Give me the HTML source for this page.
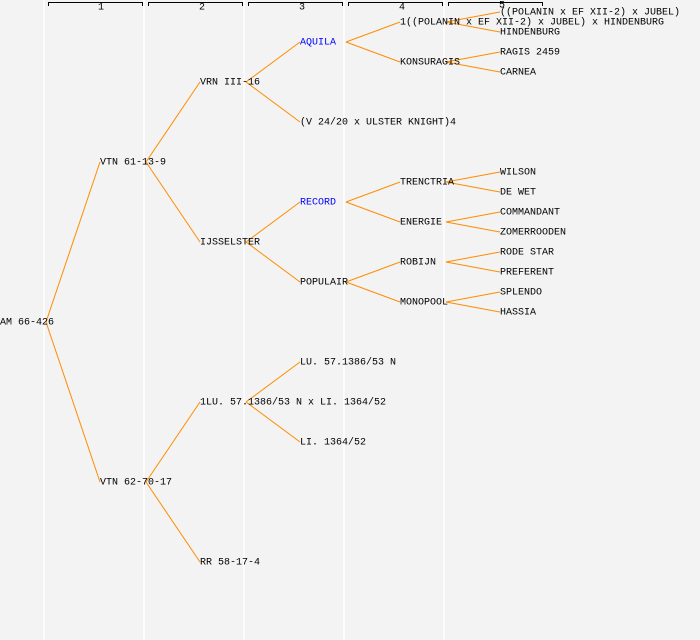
<!DOCTYPE html>
<html><head><meta charset="utf-8"><style>
html,body{margin:0;padding:0;background:#f3f3f3;}
svg{display:block;}
text{font-family:"Liberation Mono",monospace;font-size:10px;fill:#000;dominant-baseline:middle;}
</style></head><body>
<svg width="700" height="640" viewBox="0 0 700 640">
<rect width="700" height="640" fill="#f3f3f3"/>
<g stroke="#fff" stroke-width="1.5">
<line x1="44" y1="0" x2="44" y2="640"/><line x1="144" y1="0" x2="144" y2="640"/><line x1="244" y1="0" x2="244" y2="640"/><line x1="344" y1="0" x2="344" y2="640"/><line x1="444" y1="0" x2="444" y2="640"/>
</g>
<g stroke="#000" fill="none" stroke-width="1">
<path d="M48.5 6V2.5H142.5V6"/><path d="M148.5 6V2.5H242.5V6"/><path d="M248.5 6V2.5H342.5V6"/><path d="M348.5 6V2.5H442.5V6"/><path d="M448.5 6V2.5H542.5V6"/>
</g>
<g style="font-size:8px" text-anchor="middle">
<text x="101" y="7">1</text><text x="202" y="7">2</text><text x="302" y="7">3</text><text x="402" y="7">4</text><text x="502" y="5">5</text>
</g>
<g stroke="#ff8c00" stroke-width="1" fill="none">
<line x1="46" y1="322" x2="100" y2="162"/><line x1="46" y1="322" x2="100" y2="482"/>
<line x1="146" y1="162" x2="200" y2="82"/><line x1="146" y1="162" x2="200" y2="242"/>
<line x1="146" y1="482" x2="200" y2="402"/><line x1="146" y1="482" x2="200" y2="562"/>
<line x1="246" y1="82" x2="300" y2="42"/><line x1="246" y1="82" x2="300" y2="122"/>
<line x1="246" y1="242" x2="300" y2="202"/><line x1="246" y1="242" x2="300" y2="282"/>
<line x1="246" y1="402" x2="300" y2="362"/><line x1="246" y1="402" x2="300" y2="442"/>
<line x1="346" y1="42" x2="400" y2="22"/><line x1="346" y1="42" x2="400" y2="62"/>
<line x1="346" y1="202" x2="400" y2="182"/><line x1="346" y1="202" x2="400" y2="222"/>
<line x1="346" y1="282" x2="400" y2="262"/><line x1="346" y1="282" x2="400" y2="302"/>
<line x1="446" y1="22" x2="500" y2="12"/><line x1="446" y1="22" x2="500" y2="32"/>
<line x1="446" y1="62" x2="500" y2="52"/><line x1="446" y1="62" x2="500" y2="72"/>
<line x1="446" y1="182" x2="500" y2="172"/><line x1="446" y1="182" x2="500" y2="192"/>
<line x1="446" y1="222" x2="500" y2="212"/><line x1="446" y1="222" x2="500" y2="232"/>
<line x1="446" y1="262" x2="500" y2="252"/><line x1="446" y1="262" x2="500" y2="272"/>
<line x1="446" y1="302" x2="500" y2="292"/><line x1="446" y1="302" x2="500" y2="312"/>
</g>
<g>
<text x="0" y="322">AM 66-426</text>
<text x="100" y="162">VTN 61-13-9</text><text x="100" y="482">VTN 62-70-17</text>
<text x="200" y="82">VRN III-16</text><text x="200" y="242">IJSSELSTER</text><text x="200" y="402">1LU. 57.1386/53 N x LI. 1364/52</text><text x="200" y="562">RR 58-17-4</text>
<text x="300" y="42" style="fill:#0000ff">AQUILA</text><text x="300" y="122">(V 24/20 x ULSTER KNIGHT)4</text><text x="300" y="202" style="fill:#0000ff">RECORD</text><text x="300" y="282">POPULAIR</text><text x="300" y="362">LU. 57.1386/53 N</text><text x="300" y="442">LI. 1364/52</text>
<text x="400" y="22">1((POLANIN x EF XII-2) x JUBEL) x HINDENBURG</text><text x="400" y="62">KONSURAGIS</text><text x="400" y="182">TRENCTRIA</text><text x="400" y="222">ENERGIE</text><text x="400" y="262">ROBIJN</text><text x="400" y="302">MONOPOOL</text>
<text x="500" y="12">((POLANIN x EF XII-2) x JUBEL)</text><text x="500" y="32">HINDENBURG</text><text x="500" y="52">RAGIS 2459</text><text x="500" y="72">CARNEA</text>
<text x="500" y="172">WILSON</text><text x="500" y="192">DE WET</text><text x="500" y="212">COMMANDANT</text><text x="500" y="232">ZOMERROODEN</text><text x="500" y="252">RODE STAR</text><text x="500" y="272">PREFERENT</text><text x="500" y="292">SPLENDO</text><text x="500" y="312">HASSIA</text>
</g>
</svg>
</body></html>
